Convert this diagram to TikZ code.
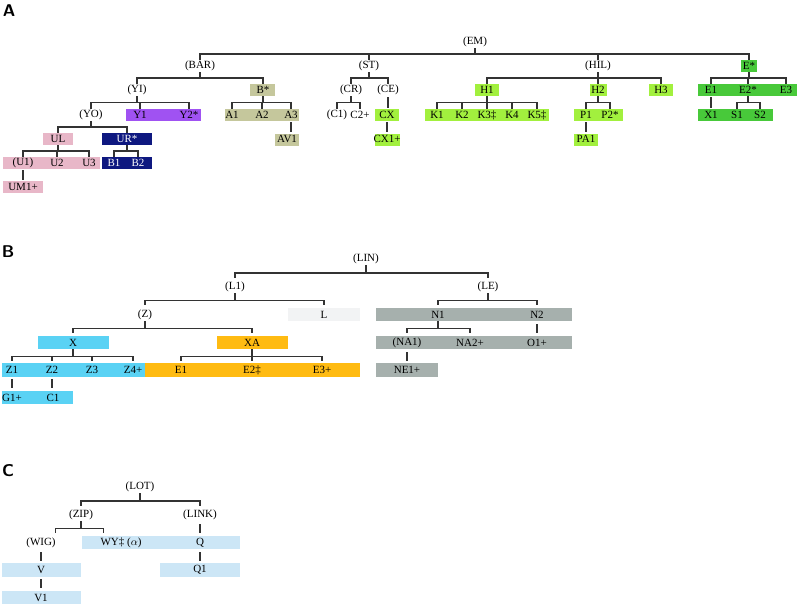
\documentclass[tikz,border=0pt]{standalone}
\usepackage{fontspec}
\setmainfont{Liberation Serif}
\usetikzlibrary{calc}
\definecolor{rosa}{HTML}{E8B7C8}
\definecolor{navy}{HTML}{0E1880}
\definecolor{lilac}{HTML}{A052F2}
\definecolor{khaki}{HTML}{C5C79C}
\definecolor{lime}{HTML}{A2F03E}
\definecolor{leaf}{HTML}{48C93A}
\definecolor{sky}{HTML}{5AD2F4}
\definecolor{amber}{HTML}{FFBB12}
\definecolor{mist}{HTML}{F2F3F4}
\definecolor{slate}{HTML}{A6B0AD}
\definecolor{ice}{HTML}{CCE6F6}
\definecolor{ink}{HTML}{333333}
\tikzset{
  edge/.style={draw=ink, line width=1.2pt, line cap=rect},
  tick/.style={edge},
  single/.style={edge, shorten <=1pt, shorten >=1pt},
  lbl/.style={inner sep=0pt, minimum height=12pt, font=\fontsize{11}{12}\selectfont},
  inv/.style={text=white},
  panel/.style={inner sep=0pt, font=\sffamily\bfseries\fontsize{17}{17}\selectfont},
}
% bracket: parent, first child, last child, all children
\newcommand{\fork}[4]{%
  \coordinate (m) at ($(#1.south)!.5!(#2.north)$);
  \draw[edge] (#1.south) -- (#1.south |- m);
  \draw[edge] (#2.north |- m) -- (#3.north |- m);
  \foreach \c in {#4} {\draw[tick] (m -| \c.north) -- (\c.north);}
}
% single line down
\newcommand{\down}[2]{\draw[single] (#1.south) -- (#1.south |- #2.north);}

\begin{document}
\begin{tikzpicture}[x=1pt,y=-1pt]
  \useasboundingbox (0,0) rectangle (800,608);

  %% A
  \fill[khaki] (250,84) rectangle (275,96);
  \fill[lilac] (126,109) rectangle (201,121);
  \fill[khaki] (225,109) rectangle (299,121);
  \fill[khaki] (275,134) rectangle (299,146);
  \fill[rosa] (43,133) rectangle (73,145);
  \fill[navy] (102,133) rectangle (152,145);
  \fill[rosa] (3,157) rectangle (100,169);
  \fill[navy] (102,157) rectangle (152,169);
  \fill[rosa] (3,181) rectangle (43,193);
  \fill[lime] (375,109) rectangle (399,121);
  \fill[lime] (375,134) rectangle (400,146);
  \fill[lime] (475,84) rectangle (499,96);
  \fill[lime] (425,109) rectangle (549,121);
  \fill[lime] (590,84) rectangle (607,96);
  \fill[lime] (649,84) rectangle (673,96);
  \fill[lime] (574,109) rectangle (623,121);
  \fill[lime] (574,134) rectangle (598,146);
  \fill[leaf] (741,60) rectangle (757,72);
  \fill[leaf] (698,84) rectangle (797,96);
  \fill[leaf] (698,109) rectangle (773,121);

  \node[panel] (pA) at (9,11) {A};
  \node[lbl] (EM) at (475,42) {(EM)};
  \node[lbl] (BAR) at (200,66) {(BAR)};
  \node[lbl] (ST) at (369,66) {(ST)};
  \node[lbl] (HIL) at (598,66) {(HIL)};
  \node[lbl] (Es) at (749,66) {E*};
  \node[lbl] (YI) at (137,90) {(YI)};
  \node[lbl] (Bs) at (263,90) {B*};
  \node[lbl] (CR) at (351,90) {(CR)};
  \node[lbl] (CE) at (388,90) {(CE)};
  \node[lbl] (H1) at (487,90) {H1};
  \node[lbl] (H2) at (598,90) {H2};
  \node[lbl] (H3) at (661,90) {H3};
  \node[lbl] (E1) at (711,90) {E1};
  \node[lbl] (E2) at (748,90) {E2*};
  \node[lbl] (E3) at (786,90) {E3};
  \node[lbl] (YO) at (91,115) {(YO)};
  \node[lbl] (Y1) at (140,115) {Y1};
  \node[lbl] (Y2) at (189,115) {Y2*};
  \node[lbl] (A1) at (232,115) {A1};
  \node[lbl] (A2) at (262,115) {A2};
  \node[lbl] (A3) at (291,115) {A3};
  \node[lbl] (C1) at (337,115) {(C1)};
  \node[lbl] (C2) at (360,115) {C2+};
  \node[lbl] (CX) at (387,115) {CX};
  \node[lbl] (K1) at (437,115) {K1};
  \node[lbl] (K2) at (462,115) {K2};
  \node[lbl] (K3) at (487,115) {K3‡};
  \node[lbl] (K4) at (512,115) {K4};
  \node[lbl] (K5) at (537,115) {K5‡};
  \node[lbl] (P1) at (586,115) {P1};
  \node[lbl] (P2) at (610,115) {P2*};
  \node[lbl] (X1) at (711,115) {X1};
  \node[lbl] (S1) at (737,115) {S1};
  \node[lbl] (S2) at (760,115) {S2};
  \node[lbl] (UL) at (58,139) {UL};
  \node[lbl,inv] (UR) at (127,139) {UR*};
  \node[lbl] (AV1) at (287,139) {AV1};
  \node[lbl] (CX1) at (387,139) {CX1+};
  \node[lbl] (PA1) at (586,139) {PA1};
  \node[lbl] (U1) at (23,163) {(U1)};
  \node[lbl] (U2) at (57,163) {U2};
  \node[lbl] (U3) at (89,163) {U3};
  \node[lbl,inv] (B1) at (114,163) {B1};
  \node[lbl,inv] (B2) at (138,163) {B2};
  \node[lbl] (UM1) at (23,187) {UM1+};

  \fork{EM}{BAR}{Es}{BAR,ST,HIL,Es}
  \fork{BAR}{YI}{Bs}{YI,Bs}
  \fork{YI}{YO}{Y2}{YO,Y1,Y2}
  \fork{Bs}{A1}{A3}{A1,A2,A3}
  \fork{YO}{UL}{UR}{UL,UR}
  \fork{UL}{U1}{U3}{U1,U2,U3}
  \fork{UR}{B1}{B2}{B1,B2}
  \fork{ST}{CR}{CE}{CR,CE}
  \fork{CR}{C1}{C2}{C1,C2}
  \fork{HIL}{H1}{H3}{H1,H2,H3}
  \fork{H1}{K1}{K5}{K1,K2,K3,K4,K5}
  \fork{H2}{P1}{P2}{P1,P2}
  \fork{Es}{E1}{E3}{E1,E2,E3}
  \fork{E2}{S1}{S2}{S1,S2}
  \down{U1}{UM1}
  \down{A3}{AV1}
  \down{CE}{CX}
  \down{CX}{CX1}
  \down{P1}{PA1}
  \down{E1}{X1}

  %% B
  \begin{scope}[lbl/.append style={minimum height=13pt},
      tick/.append style={shorten >=3pt},
      single/.append style={shorten <=3pt, shorten >=3pt}]
  \fill[mist] (288,308) rectangle (360,321);
  \fill[slate] (376,308) rectangle (572,321);
  \fill[sky] (38,336) rectangle (109,349);
  \fill[amber] (217,336) rectangle (288,349);
  \fill[slate] (376,336) rectangle (572,349);
  \fill[sky] (2,363) rectangle (145,377);
  \fill[amber] (145,363) rectangle (360,377);
  \fill[slate] (376,363) rectangle (438,377);
  \fill[sky] (2,391) rectangle (73,404);

  \node[panel] (pB) at (8,252) {B};
  \node[lbl] (bLIN) at (366,259) {(LIN)};
  \node[lbl] (bL1) at (235,287) {(L1)};
  \node[lbl] (bLE) at (488,287) {(LE)};
  \node[lbl] (bZ) at (145,314.5) {(Z)};
  \node[lbl] (bL) at (324,314.5) {L};
  \node[lbl] (bN1) at (438,314.5) {N1};
  \node[lbl] (bN2) at (537,314.5) {N2};
  \node[lbl] (bX) at (73,342.5) {X};
  \node[lbl] (bXA) at (252,342.5) {XA};
  \node[lbl] (bNA1) at (407,342.5) {(NA1)};
  \node[lbl] (bNA2) at (470,342.5) {NA2+};
  \node[lbl] (bO1) at (537,342.5) {O1+};
  \node[lbl] (bZ1) at (12,370) {Z1};
  \node[lbl] (bZ2) at (52,370) {Z2};
  \node[lbl] (bZ3) at (92,370) {Z3};
  \node[lbl] (bZ4) at (133,370) {Z4+};
  \node[lbl] (bE1) at (181,370) {E1};
  \node[lbl] (bE2) at (252,370) {E2‡};
  \node[lbl] (bE3) at (322,370) {E3+};
  \node[lbl] (bNE1) at (407,370) {NE1+};
  \node[lbl] (bG1) at (12,397.5) {G1+};
  \node[lbl] (bC1) at (53,397.5) {C1};

  \fork{bLIN}{bL1}{bLE}{bL1,bLE}
  \fork{bL1}{bZ}{bL}{bZ,bL}
  \fork{bLE}{bN1}{bN2}{bN1,bN2}
  \fork{bZ}{bX}{bXA}{bX,bXA}
  \fork{bN1}{bNA1}{bNA2}{bNA1,bNA2}
  \fork{bX}{bZ1}{bZ4}{bZ1,bZ2,bZ3,bZ4}
  \fork{bXA}{bE1}{bE3}{bE1,bE2,bE3}
  \down{bN2}{bO1}
  \down{bNA1}{bNE1}
  \down{bZ1}{bG1}
  \down{bZ2}{bC1}
  \end{scope}

  %% C
  \begin{scope}[lbl/.append style={minimum height=13pt},
      tick/.append style={shorten >=3pt},
      single/.append style={shorten <=3pt, shorten >=3pt}]
  \fill[ice] (82,536) rectangle (240,549);
  \fill[ice] (2,563) rectangle (81,577);
  \fill[ice] (160,563) rectangle (240,577);
  \fill[ice] (2,591) rectangle (81,604);

  \node[panel] (pC) at (8,471) {C};
  \node[lbl] (cLOT) at (140,487) {(LOT)};
  \node[lbl] (cZIP) at (81,515) {(ZIP)};
  \node[lbl] (cLINK) at (200,515) {(LINK)};
  \node[lbl] (cWIG) at (41,542.5) {(WIG)};
  \node[lbl] (cWY) at (121,542.5) {WY‡ ($\alpha$)};
  \node[lbl] (cQ) at (200,542.5) {Q};
  \node[lbl] (cV) at (41,570) {V};
  \node[lbl] (cQ1) at (200,570) {Q1};
  \node[lbl] (cV1) at (41,597.5) {V1};

  \fork{cLOT}{cZIP}{cLINK}{cZIP,cLINK}
  % ZIP bracket sits off the label centres
  \coordinate (m) at ($(cZIP.south)!.5!(cWIG.north)$);
  \coordinate (wyt) at ([xshift=3pt]cWY.north west);
  \draw[edge] (cZIP.south) -- (cZIP.south |- m);
  \draw[edge] (cWIG.north east |- m) -- (wyt |- m);
  \draw[tick] (cWIG.north east |- m) -- (cWIG.north east);
  \draw[tick] (wyt |- m) -- (wyt);
  \down{cLINK}{cQ}
  \down{cWIG}{cV}
  \down{cV}{cV1}
  \down{cQ}{cQ1}
  \end{scope}
\end{tikzpicture}
\end{document}
